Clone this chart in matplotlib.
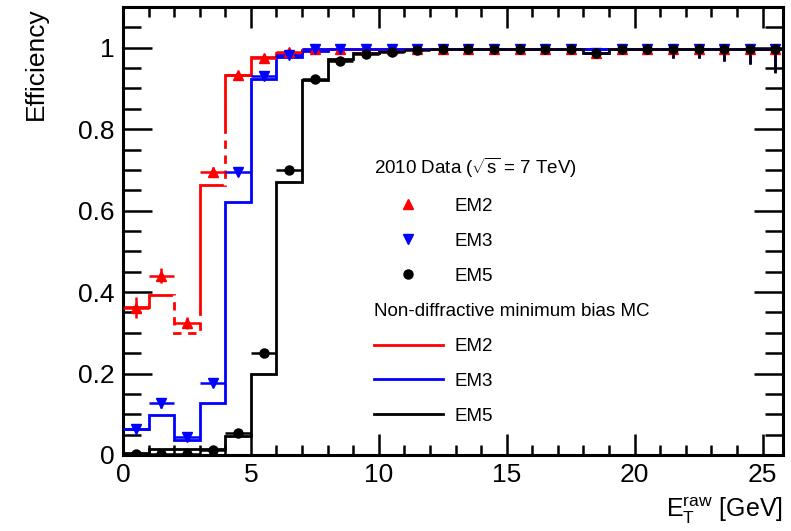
import numpy as np
import matplotlib
matplotlib.use("Agg")
import matplotlib.pyplot as plt
from matplotlib.lines import Line2D
from matplotlib.ticker import MultipleLocator, FuncFormatter

plt.rcParams["font.family"] = ["Liberation Sans", "DejaVu Sans"]
plt.rcParams["mathtext.fontset"] = "custom"
plt.rcParams["mathtext.rm"] = "Liberation Sans"
plt.rcParams["mathtext.it"] = "Liberation Sans:italic"

# bins of 1 GeV from 0 to 26
edges = np.arange(0, 27)
centers = edges[:-1] + 0.5

# 2010 data (markers)
em2_data = [0.362, 0.440, 0.325, 0.696, 0.932, 0.975, 0.990, 0.996, 0.998, 0.998,
            0.998, 0.998, 0.998, 0.997, 0.998, 0.998, 0.998, 0.998, 0.987, 0.998,
            0.998, 0.998, 0.998, 0.998, 0.998, 0.998]
em3_data = [0.065, 0.128, 0.043, 0.178, 0.696, 0.930, 0.983, 0.997, 0.998, 0.998,
            0.998, 0.998, 0.998, 0.997, 0.998, 0.998, 0.998, 0.998, 0.987, 0.998,
            0.998, 0.998, 0.998, 0.998, 0.998, 0.998]
em5_data = [0.003, 0.002, 0.003, 0.012, 0.054, 0.250, 0.700, 0.922, 0.967, 0.984,
            0.990, 0.995, 0.996, 0.996, 0.997, 0.997, 0.997, 0.997, 0.987, 0.997,
            0.997, 0.997, 0.997, 0.997, 0.997, 0.997]

# statistical errors on data
em2_err = [0.025, 0.018, 0.015, 0.012, 0.008, 0.005, 0.004, 0.003, 0.003, 0.003,
           0.003, 0.003, 0.004, 0.004, 0.005, 0.005, 0.006, 0.007, 0.008, 0.008,
           0.010, 0.022, 0.022, 0.030, 0.038, 0.058]
em3_err = [0.010, 0.012, 0.008, 0.012, 0.012, 0.006, 0.004, 0.003, 0.003, 0.003,
           0.003, 0.003, 0.004, 0.004, 0.005, 0.005, 0.006, 0.007, 0.008, 0.008,
           0.010, 0.022, 0.022, 0.030, 0.038, 0.058]
em5_err = [0.003, 0.002, 0.003, 0.004, 0.006, 0.010, 0.010, 0.008, 0.006, 0.004,
           0.003, 0.003, 0.004, 0.004, 0.005, 0.005, 0.006, 0.007, 0.008, 0.008,
           0.010, 0.022, 0.022, 0.030, 0.038, 0.058]

# non-diffractive minimum bias MC (histograms)
em2_mc = [0.364, 0.392, 0.299, 0.663, 0.934, 0.977, 0.988, 0.995, 0.997, 0.997,
          0.997, 0.997, 0.997, 0.997, 0.997, 0.997, 0.997, 0.997, 0.997, 0.997,
          0.997, 0.997, 0.997, 0.997, 0.997, 0.997]
em3_mc = [0.064, 0.097, 0.037, 0.127, 0.621, 0.923, 0.977, 0.993, 0.996, 0.997,
          0.997, 0.997, 0.997, 0.997, 0.997, 0.997, 0.997, 0.997, 0.997, 0.997,
          0.997, 0.997, 0.997, 0.997, 0.997, 0.997]
em5_mc = [0.005, 0.015, 0.015, 0.015, 0.047, 0.198, 0.670, 0.921, 0.973, 0.988,
          0.993, 0.997, 0.997, 0.997, 0.997, 0.997, 0.997, 0.997, 0.988, 0.997,
          0.997, 0.997, 0.997, 0.997, 0.997, 0.997]

labels = ["EM2", "EM3", "EM5"]
colors = ["#ff0000", "#0000ff", "#000000"]
markers = ["^", "v", "o"]

fig = plt.figure(figsize=(7.91, 5.31), dpi=100)
ax = fig.add_axes([123 / 791, 76 / 531, 660 / 791, 448 / 531])

# MC step histograms
for mc, c in zip([em2_mc, em3_mc, em5_mc], colors):
    ax.stairs(mc, edges, baseline=None, color=c, lw=2.0, zorder=2)

# dashed look of the EM2 MC around the 2-3 GeV bin
gap_x = [edges[2], edges[2], edges[3], edges[3]]
gap_y = [em2_mc[1], em2_mc[2], em2_mc[2], em2_mc[2] + 0.05]
ax.plot(gap_x, gap_y, color="white", lw=2.4, ls=(0, (2, 2.5)), zorder=2.5)
ax.plot([edges[4], edges[4]], [em2_mc[3], em2_mc[3] + 0.13], color="white",
        lw=2.4, ls=(0, (2, 2.5)), zorder=2.5)

# data points
for d, e, c, m in zip([em2_data, em3_data, em5_data],
                      [em2_err, em3_err, em5_err], colors, markers):
    d = np.array(d)
    e = np.array(e)
    up = np.minimum(e, 1.0 - d)
    ax.errorbar(centers, d, xerr=0.5, yerr=[e, up], fmt=m, color=c, ms=6.5,
                mec=c, elinewidth=1.8, capsize=0, zorder=3)

ax.set_xlim(0, 25.8)
ax.set_ylim(0, 1.1)

ax.xaxis.set_major_locator(MultipleLocator(5))
ax.xaxis.set_minor_locator(MultipleLocator(1))
ax.yaxis.set_major_locator(MultipleLocator(0.2))
ax.yaxis.set_minor_locator(MultipleLocator(0.05))
ax.yaxis.set_major_formatter(FuncFormatter(lambda v, p: "%g" % round(v, 2)))

ax.tick_params(which="both", direction="in", top=True, right=True,
               width=1.8, labelsize=19, pad=6)
ax.tick_params(axis="x", which="major", length=15)
ax.tick_params(axis="x", which="minor", length=7)
ax.tick_params(axis="y", which="major", length=21)
ax.tick_params(axis="y", which="minor", length=13)
for s in ax.spines.values():
    s.set_linewidth(2.2)

ax.set_ylabel("Efficiency", loc="top", fontsize=19, labelpad=22)
ax.set_xlabel(r"$\mathrm{E}_{\mathrm{T}}^{\mathrm{raw}}$ [GeV]", loc="right",
              fontsize=18, labelpad=6)

# legend: data block and MC block
data_handles = [Line2D([], [], ls="none", marker=m, color=c, ms=6.5)
                for m, c in zip(markers, colors)]
mc_handles = [Line2D([], [], color=c, lw=2.0) for c in colors]

leg1 = ax.legend(data_handles, labels,
                 title=r"2010 Data ($\sqrt{\mathrm{s}}$ = 7 TeV)",
                 loc="upper left", bbox_to_anchor=(0.38, 0.668), frameon=False,
                 fontsize=13.5, title_fontsize=13.5, alignment="left",
                 handlelength=3.7, handletextpad=0.6, labelspacing=0.95,
                 borderpad=0, borderaxespad=0)
ax.add_artist(leg1)
ax.legend(mc_handles, labels, title="Non-diffractive minimum bias MC",
          loc="upper left", bbox_to_anchor=(0.38, 0.339), frameon=False,
          fontsize=13.5, title_fontsize=13.5, alignment="left",
          handlelength=3.7, handletextpad=0.6, labelspacing=0.95,
          borderpad=0, borderaxespad=0)

fig.savefig("out.png", dpi=100)
